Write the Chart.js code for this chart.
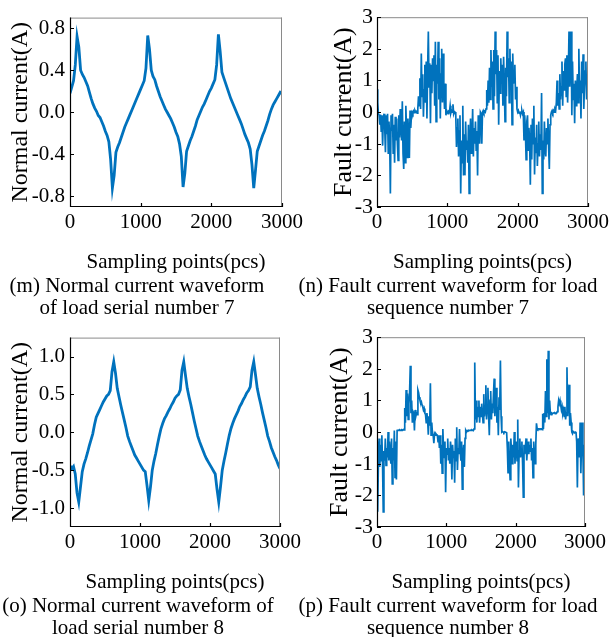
<!DOCTYPE html>
<html lang="en">
<head>
<meta charset="UTF-8">
<title>Normal and fault current waveforms</title>
<style>
    body {
        margin: 0;
        background: #fff;
        width: 612px;
        height: 637px;
        position: relative;
        overflow: hidden;
        font-family: "Liberation Serif", "Times New Roman", serif;
        color: #000;
    }
    .panel {
        position: absolute;
        width: 306px;
        height: 280px;
    }
    .caption {
        position: absolute;
        width: 320px;
        text-align: center;
        font-size: 21px;
        line-height: 22px;
        white-space: nowrap;
    }
</style>
</head>
<body>
<div class="panel" style="left:0;top:0"><canvas id="chartM"></canvas></div>
<div class="panel" style="left:306px;top:0"><canvas id="chartN"></canvas></div>
<div class="panel" style="left:0;top:320px"><canvas id="chartO"></canvas></div>
<div class="panel" style="left:306px;top:320px"><canvas id="chartP"></canvas></div>

<div class="caption" style="left:-23px;top:274px">(m) Normal current waveform<br>of load serial number 7</div>
<div class="caption" style="left:288px;top:274px">(n) Fault current waveform for load<br>sequence number 7</div>
<div class="caption" style="left:-22px;top:594px">(o) Normal current waveform of<br>load serial number 8</div>
<div class="caption" style="left:288px;top:594px">(p) Fault current waveform for load<br>sequence number 8</div>

<script src="https://cdn.jsdelivr.net/npm/chart.js"></script>
<script>
// sampling points on the x axis
const xTicks = [0, 1000, 2000, 3000];
const normalStep = 25;   // samples between the values listed below
const faultStep = 10;

// tick labels on the y axes
const normal7Ticks = [-0.8, -0.4, 0, 0.4, 0.8];
const normal8Ticks = [-1.0, -0.5, 0, 0.5, 1.0];
const faultTicks = [-3, -2, -1, 0, 1, 2, 3];

// (m) normal current, load 7, one value every 25 samples
const normal7 = [
    0.18, 0.24, 0.30, 0.45, 0.72, 0.62, 0.40, 0.36, 0.33, 0.29,
    0.25, 0.19, 0.13, 0.08, 0.04, 0.01, -0.03, -0.05, -0.09, -0.13,
    -0.18, -0.22, -0.28, -0.45, -0.72, -0.60, -0.38, -0.33, -0.29, -0.24,
    -0.19, -0.14, -0.10, -0.06, -0.02, 0.02, 0.06, 0.10, 0.14, 0.18,
    0.22, 0.26, 0.30, 0.42, 0.73, 0.60, 0.40, 0.34, 0.31, 0.25,
    0.20, 0.15, 0.11, 0.07, 0.03, 0.00, -0.03, -0.06, -0.10, -0.14,
    -0.19, -0.23, -0.30, -0.42, -0.71, -0.58, -0.37, -0.32, -0.27, -0.23,
    -0.18, -0.13, -0.07, -0.03, 0.01, 0.05, 0.08, 0.12, 0.16, 0.20,
    0.23, 0.27, 0.31, 0.45, 0.74, 0.58, 0.38, 0.33, 0.28, 0.23,
    0.18, 0.13, 0.09, 0.05, 0.01, -0.03, -0.07, -0.11, -0.16, -0.21,
    -0.25, -0.29, -0.35, -0.50, -0.72, -0.55, -0.37, -0.32, -0.27, -0.22,
    -0.18, -0.13, -0.08, -0.02, 0.03, 0.07, 0.10, 0.13, 0.16, 0.19,
    0.18
];

// (o) normal current, load 8, one value every 25 samples
const normal8 = [
    -0.44, -0.48, -0.45, -0.55, -0.80, -0.92, -0.72, -0.52, -0.42, -0.35,
    -0.27, -0.18, -0.10, -0.02, 0.10, 0.20, 0.25, 0.30, 0.35, 0.40,
    0.44, 0.48, 0.50, 0.55, 0.80, 0.93, 0.78, 0.58, 0.47, 0.36,
    0.26, 0.16, 0.06, -0.05, -0.12, -0.18, -0.24, -0.30, -0.34, -0.38,
    -0.42, -0.46, -0.50, -0.52, -0.70, -0.90, -0.72, -0.50, -0.38, -0.28,
    -0.16, -0.05, 0.05, 0.12, 0.18, 0.22, 0.27, 0.31, 0.36, 0.40,
    0.45, 0.48, 0.50, 0.56, 0.82, 0.93, 0.75, 0.58, 0.47, 0.37,
    0.26, 0.15, 0.05, -0.05, -0.12, -0.18, -0.24, -0.30, -0.35, -0.39,
    -0.43, -0.47, -0.51, -0.55, -0.75, -0.92, -0.72, -0.50, -0.38, -0.27,
    -0.15, -0.04, 0.05, 0.12, 0.18, 0.23, 0.28, 0.34, 0.38, 0.43,
    0.47, 0.52, 0.55, 0.60, 0.82, 0.93, 0.76, 0.58, 0.47, 0.37,
    0.26, 0.16, 0.06, -0.05, -0.12, -0.20, -0.26, -0.32, -0.37, -0.43,
    -0.48
];

// (n) fault current, load 7, one value every 10 samples
const fault7 = [
    0.72, 0.30, -0.05, -0.10, -0.40, -0.08, -0.60, -0.10, -1.06, -0.20,
    -0.05, -0.50, -1.27, -0.10, -0.70, -0.05, -1.30, -0.30, -0.80, -2.57,
    -0.10, -0.60, -0.05, -1.30, -0.40, -1.60, -0.15, -0.90, -0.20, -1.00,
    -1.53, -0.10, -0.80, 0.10, -0.50, -0.90, 0.34, -1.30, -1.80, -0.30,
    -1.60, 0.20, -0.60, -1.43, -0.20, -0.80, -1.45, 0.05, -0.50, -0.10,
    0.00, -0.05, 0.03, -0.02, 0.05, 0.00, 0.02, -0.03, 0.10, 0.50,
    0.20, 1.07, 0.10, 1.85, 0.50, 1.20, -0.15, 0.70, 1.50, 0.30,
    1.60, -0.20, 1.40, 2.55, 0.80, 1.54, -0.35, 1.50, 0.60, 1.70,
    1.00, 1.80, 0.20, 2.22, -0.30, 1.50, 0.90, 2.22, 0.40, 1.70,
    -0.20, 1.20, 2.00, 0.30, 1.85, 0.70, 0.10, 0.90, -0.10, 0.05,
    0.00, -0.05, 0.02, 0.00, 0.20, -0.03, 0.05, 0.00, 0.25, -0.05,
    0.02, 0.00, -0.10, -1.10, -0.50, -0.20, -1.40, -0.60, -0.10, -2.57,
    -0.90, -1.60, 0.20, -2.00, -0.70, -2.00, -0.30, -1.20, -0.90, -1.60,
    -0.40, -2.57, -1.00, -0.20, -1.30, -0.90, 0.10, -1.40, -0.50, -1.00,
    -0.30, -1.20, -0.60, -2.00, -0.10, -0.80, -1.00, 0.00, -0.05, -1.00,
    0.00, 0.05, -0.02, 0.03, 0.00, 0.10, 0.70, 0.20, 1.00, 0.30,
    1.40, 0.40, 1.96, 0.80, 1.60, 0.10, 1.96, 0.50, 2.55, 1.20,
    1.96, 0.30, 1.80, -0.40, 1.30, 0.60, 1.70, 0.90, 1.50, 0.20,
    1.75, 0.80, -0.30, 1.40, 0.50, 2.55, 1.10, 1.70, 0.30, 2.00,
    0.70, 1.60, -0.40, 1.85, 0.90, 1.30, 1.50, 0.40, 0.80, 0.10,
    0.00, 0.05, -0.03, 0.02, -0.10, 0.00, 0.05, -0.05, 0.00, -0.90,
    -0.10, -0.60, -1.50, -0.30, -0.10, -1.20, -0.50, -0.90, -2.30, -0.40,
    -1.50, -0.20, -1.00, 0.20, -1.97, -0.80, -1.30, -0.40, -1.70, -1.00,
    -0.30, -1.40, -0.70, -1.20, 0.60, -2.57, -0.90, -1.50, -0.30, -1.20,
    -1.40, -0.50, -1.00, -0.20, -1.10, -1.80, -0.40, -0.10, 0.00, 0.05,
    -0.02, 0.05, 0.00, 0.10, 0.05, 0.30, 1.00, 0.20, 0.60, 0.10,
    1.20, 0.40, 0.80, 1.60, 0.20, 1.30, 0.70, 1.50, 1.70, 0.50,
    1.80, 0.30, 1.20, 2.55, 0.80, 1.40, 2.55, -0.10, 1.60, 0.40,
    0.90, -0.35, 1.00, 0.20, 0.70, 1.20, 0.30, 2.00, 0.50, 1.00,
    -0.20, 1.60, 0.60, 1.83, 0.10, 0.80, 1.30, 1.60, 0.40, 1.10,
    0.50
];

// (p) fault current, load 8, one value every 10 samples
const fault8 = [
    -0.30, -2.52, -1.00, -0.20, -1.10, -0.40, -0.90, -0.10, -1.00, -2.52,
    -0.60, -0.90, -0.20, -1.05, -0.50, -0.80, 0.00, -0.90, -0.30, -0.70,
    -1.00, -0.20, -1.64, -0.50, -0.90, 0.05, -1.43, -0.30, -1.50, 0.05,
    0.05, 0.06, 0.05, 0.07, 0.06, 0.05, 0.07, 0.06, 0.08, 0.07,
    0.76, 0.30, 1.33, 0.50, 1.22, 0.40, 0.90, 1.25, 2.10, 0.60,
    1.00, 0.30, 0.65, 0.60, 0.05, 0.70, 0.50, 0.60, 0.55, 1.33,
    1.25, 1.10, 1.00, 0.90, 0.95, 0.85, 0.80, 0.70, 0.75, 0.60,
    0.55, 0.30, 0.60, 0.40, -0.08, 0.50, 0.20, 1.54, -0.10, 0.30,
    -0.05, -0.10, -0.35, -0.05, -0.10, -0.05, -0.08, -0.10, -0.30, -0.10,
    -0.50, -0.10, -1.00, -0.40, -1.30, 0.10, -0.60, -0.80, -0.30, -1.90,
    -0.50, -0.70, -0.20, -0.90, -0.50, -1.00, -0.30, -0.60, -1.50, -0.40,
    -0.80, -0.60, -1.60, -0.20, -0.90, 0.15, -1.20, -0.50, -0.70, 0.10,
    -0.60, -0.90, -0.30, -1.80, -0.70, -0.40, -1.10, -0.20, 0.05, 0.00,
    0.05, 0.04, 0.06, 0.05, 0.05, 0.06, 0.05, 0.07, 0.06, 0.05,
    0.10, 2.20, 0.40, 1.00, 0.30, 0.80, 0.50, 1.00, 0.30, 0.80,
    0.50, 0.90, 0.60, 0.30, 1.20, 0.50, 0.70, 1.48, 0.40, 0.80,
    1.40, 0.50, -0.10, 1.00, 1.30, 0.40, 0.90, 0.60, 1.20, 1.69,
    0.50, 1.00, 1.40, 0.30, 0.80, -0.10, 1.10, 0.70, 2.26, 0.50,
    0.00, 0.02, 0.00, -0.02, 0.01, 0.00, 0.00, -0.02, -0.50, -1.28,
    -0.30, -0.90, -1.50, -0.20, -0.60, -1.00, -0.40, -0.80, 0.00, -1.00,
    -0.50, -0.30, -0.90, 0.40, -1.75, -0.60, -0.20, -0.80, -0.60, -0.30,
    -1.00, -2.06, -0.40, -0.70, -0.50, -0.20, -0.90, -0.50, -0.30, -0.70,
    -0.40, -0.60, -0.20, -0.90, -0.50, -1.44, -0.30, -0.70, -1.00, -0.40,
    0.28, 0.10, 0.08, 0.10, 0.10, 0.09, 0.10, 0.10, 0.08, 0.58,
    0.10, 0.60, 0.30, 1.30, 0.50, 2.30, 0.60, 2.57, 0.40, 1.00,
    0.60, 0.55, 0.60, 0.58, 0.60, 0.60, 0.62, 0.58, 0.60, 0.60,
    0.65, 0.80, 1.00, 0.90, 1.00, 0.85, 0.70, 0.80, 0.60, 0.70,
    0.50, 0.80, 0.40, 0.60, 2.05, 0.50, 1.00, 1.50, 0.20, 0.60,
    0.30, 0.00, -0.05, 0.02, 0.00, -0.02, 0.00, 0.01, -0.30, -1.75,
    -0.20, -0.50, -0.80, 0.30, -1.30, -0.40, 0.30, -0.60, -2.00, -0.40,
    -2.05
];

const lineColor = 'rgb(0, 114, 189)';
const fontFamily = '"Liberation Serif", "Times New Roman", serif';

// frame: black left/bottom spines, grey top/right, inward tick marks
const framePlugin = {
    id: 'frame',
    afterDraw(chart) {
        const { ctx, chartArea: a, scales: { x, y } } = chart;
        ctx.save();
        ctx.lineWidth = 1;
        ctx.strokeStyle = '#8a8a8a';
        ctx.beginPath();
        ctx.moveTo(a.left, a.top + 0.5);
        ctx.lineTo(a.right, a.top + 0.5);
        ctx.moveTo(a.right - 0.5, a.top);
        ctx.lineTo(a.right - 0.5, a.bottom);
        ctx.stroke();

        ctx.strokeStyle = '#000';
        ctx.lineWidth = 1.2;
        ctx.beginPath();
        ctx.moveTo(a.left + 0.5, a.top);
        ctx.lineTo(a.left + 0.5, a.bottom - 0.5);
        ctx.lineTo(a.right, a.bottom - 0.5);
        x.ticks.forEach(t => {
            const px = Math.round(x.getPixelForValue(t.value)) + 0.5;
            ctx.moveTo(px, a.bottom);
            ctx.lineTo(px, a.bottom - 4);
        });
        y.ticks.forEach(t => {
            const py = Math.round(y.getPixelForValue(t.value)) + 0.5;
            ctx.moveTo(a.left, py);
            ctx.lineTo(a.left + 4, py);
        });
        ctx.stroke();
        ctx.restore();
    }
};

function makeChart(id, cfg) {
    const points = cfg.values.map((v, i) => ({ x: i * cfg.step, y: v }));
    return new Chart(document.getElementById(id), {
        type: 'line',
        data: {
            datasets: [{
                data: points,
                borderColor: lineColor,
                borderWidth: cfg.lineWidth,
                pointRadius: 0,
                tension: 0,
                fill: false
            }]
        },
        options: {
            responsive: true,
            maintainAspectRatio: false,
            animation: false,
            events: [],
            layout: { padding: { top: 15, right: cfg.padRight, bottom: 0, left: 0 } },
            plugins: { legend: { display: false }, tooltip: { enabled: false } },
            scales: {
                x: {
                    type: 'linear',
                    min: 0,
                    max: 3000,
                    afterBuildTicks: s => { s.ticks = xTicks.map(v => ({ value: v })); },
                    afterFit: s => { s.height = 73; },
                    grid: { display: false, drawTicks: false },
                    border: { display: false },
                    ticks: {
                        color: '#000',
                        font: { family: fontFamily, size: 21 },
                        padding: 3,
                        maxRotation: 0,
                        autoSkip: false,
                        callback: v => String(v)
                    },
                    title: {
                        display: true,
                        text: 'Sampling points(pcs)',
                        color: '#000',
                        font: { family: fontFamily, size: 21 },
                        padding: { top: 0, bottom: 5 }
                    }
                },
                y: {
                    type: 'linear',
                    min: cfg.yMin,
                    max: cfg.yMax,
                    afterBuildTicks: s => { s.ticks = cfg.yTicks.map(v => ({ value: v })); },
                    afterFit: s => { s.width = cfg.yWidth; },
                    grid: { display: false, drawTicks: false },
                    border: { display: false },
                    ticks: {
                        color: '#000',
                        font: { family: fontFamily, size: cfg.yTickSize },
                        padding: cfg.yTickPad,
                        autoSkip: false,
                        callback: v => v.toFixed(cfg.decimals)
                    },
                    title: {
                        display: true,
                        text: cfg.yTitle,
                        color: '#000',
                        font: { family: fontFamily, size: cfg.yTitleSize },
                        padding: { top: cfg.yTitlePad, bottom: 0 }
                    }
                }
            }
        },
        plugins: [framePlugin]
    });
}

makeChart('chartM', {
    values: normal7, step: normalStep, lineWidth: 2.8,
    yMin: -0.9, yMax: 0.9, yTicks: normal7Ticks, decimals: 1,
    yTitle: 'Normal current(A)', yTitleSize: 24, yTitlePad: 6,
    yTickSize: 21, yTickPad: 5, yWidth: 70, padRight: 24
});
makeChart('chartN', {
    values: fault7, step: faultStep, lineWidth: 1.7,
    yMin: -3, yMax: 3, yTicks: faultTicks, decimals: 0,
    yTitle: 'Fault current(A)', yTitleSize: 26, yTitlePad: 23,
    yTickSize: 22, yTickPad: 4, yWidth: 71, padRight: 23
});
makeChart('chartO', {
    values: normal8, step: normalStep, lineWidth: 2.8,
    yMin: -1.25, yMax: 1.25, yTicks: normal8Ticks, decimals: 1,
    yTitle: 'Normal current(A)', yTitleSize: 24, yTitlePad: 6,
    yTickSize: 21, yTickPad: 5, yWidth: 70, padRight: 26
});
makeChart('chartP', {
    values: fault8, step: faultStep, lineWidth: 1.7,
    yMin: -3, yMax: 3, yTicks: faultTicks, decimals: 0,
    yTitle: 'Fault current(A)', yTitleSize: 26, yTitlePad: 19,
    yTickSize: 22, yTickPad: 4, yWidth: 71, padRight: 27
});
</script>
</body>
</html>
